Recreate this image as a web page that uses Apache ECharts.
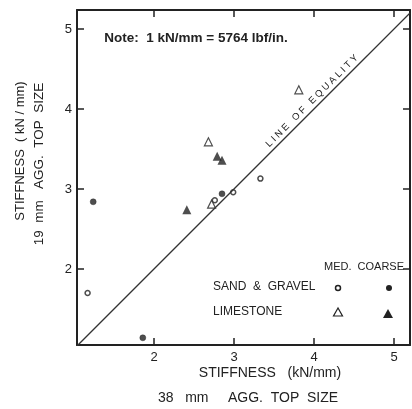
<!DOCTYPE html>
<html><head><meta charset="utf-8">
<script src="https://cdn.jsdelivr.net/npm/echarts@6/dist/echarts.min.js"></script>
<style>html,body{margin:0;padding:0;background:#fff}#c{width:412px;height:409px}</style>
</head><body><div id="c"></div>
<script>
const xTicks = [2, 3, 4, 5];
const yTicks = [2, 3, 4, 5];
const sandGravelMed = [[1.17, 1.70], [2.76, 2.86], [2.99, 2.96], [3.33, 3.13]];
const sandGravelCoarse = [[1.24, 2.84], [1.86, 1.14], [2.85, 2.94]];
const limestoneMed = [[3.81, 4.24], [2.68, 3.59], [2.72, 2.81]];
const limestoneCoarse = [[2.41, 2.74], [2.79, 3.41], [2.85, 3.36]];
const equality = [[1.04, 1.04], [5.2, 5.2]];

const ink = '#222';
const font = 'Liberation Sans, Arial, sans-serif';
const chart = echarts.init(document.getElementById('c'));
const axX = (pos, show) => ({
  type: 'value', position: pos, min: 1.0375, max: 5.2,
  axisLine: { show: true, onZero: false, lineStyle: { color: ink, width: 2 } },
  axisTick: { show: true, inside: true, length: 7, customValues: xTicks, lineStyle: { color: ink, width: 1.5 } },
  axisLabel: { show: show, customValues: xTicks, color: ink, fontSize: 13, fontFamily: font, margin: 6 },
  splitLine: { show: false }
});
const axY = (pos, show) => ({
  type: 'value', position: pos, min: 1.05, max: 5.2375,
  axisLine: { show: true, onZero: false, lineStyle: { color: ink, width: 2 } },
  axisTick: { show: true, inside: true, length: 7, customValues: yTicks, lineStyle: { color: ink, width: 1.5 } },
  axisLabel: { show: show, customValues: yTicks, color: ink, fontSize: 13, fontFamily: font, margin: 5 },
  splitLine: { show: false }
});
const txt = (x, y, s, size, extra, align) => Object.assign({ type: 'text', x: x, y: y,
  style: { text: s, fill: ink, font: size + 'px ' + font, align: align || 'center', verticalAlign: 'middle' } }, extra || {});
chart.setOption({
  animation: false,
  grid: { left: 77, top: 10, right: 2, bottom: 64 },
  xAxis: [axX('bottom', true), axX('top', false)],
  yAxis: [axY('left', true), axY('right', false)],
  series: [
    { type: 'line', data: equality, symbol: 'none', lineStyle: { color: '#333', width: 1.3 } },
    { type: 'scatter', data: sandGravelMed, symbol: 'circle', symbolSize: 5,
      itemStyle: { color: '#fff', borderColor: ink, borderWidth: 1.5 } },
    { type: 'scatter', data: sandGravelCoarse, symbol: 'circle', symbolSize: 6,
      itemStyle: { color: ink, borderColor: ink, borderWidth: 0.5 } },
    { type: 'scatter', data: limestoneMed, symbol: 'triangle', symbolSize: 8,
      itemStyle: { color: '#fff', borderColor: ink, borderWidth: 1.2 } },
    { type: 'scatter', data: limestoneCoarse, symbol: 'triangle', symbolSize: 9,
      itemStyle: { color: ink } }
  ],
  graphic: [
    { type: 'text', x: 196, y: 38, style: { text: 'Note:  1 kN/mm = 5764 lbf/in.', fill: ink, font: 'bold 13.5px ' + font, align: 'center', verticalAlign: 'middle' } },
    txt(312, 101, 'L I N E   O F   E Q U A L I T Y', 9.5, { rotation: Math.PI / 4 }),
    txt(364, 267, 'MED.  COARSE', 11),
    txt(213, 287, 'SAND  &  GRAVEL', 12, null, 'left'),
    txt(213, 312, 'LIMESTONE', 12, null, 'left'),
    { type: 'circle', shape: { cx: 338, cy: 288, r: 2.5 }, style: { fill: '#fff', stroke: ink, lineWidth: 1.5 } },
    { type: 'circle', shape: { cx: 389, cy: 288, r: 3 }, style: { fill: ink } },
    { type: 'polygon', shape: { points: [[338, 308], [333.5, 316], [342.5, 316]] }, style: { fill: '#fff', stroke: ink, lineWidth: 1.2 } },
    { type: 'polygon', shape: { points: [[388, 309], [383, 318], [393, 318]] }, style: { fill: ink } },
    txt(20, 151, 'STIFFNESS  ( kN / mm)', 13, { rotation: Math.PI / 2 }),
    txt(39, 164, '19  mm   AGG.  TOP  SIZE', 13.5, { rotation: Math.PI / 2 }),
    txt(270, 373, 'STIFFNESS   (kN/mm)', 14),
    txt(248, 398, '38   mm     AGG.  TOP  SIZE', 14)
  ]
});
</script>
</body></html>
